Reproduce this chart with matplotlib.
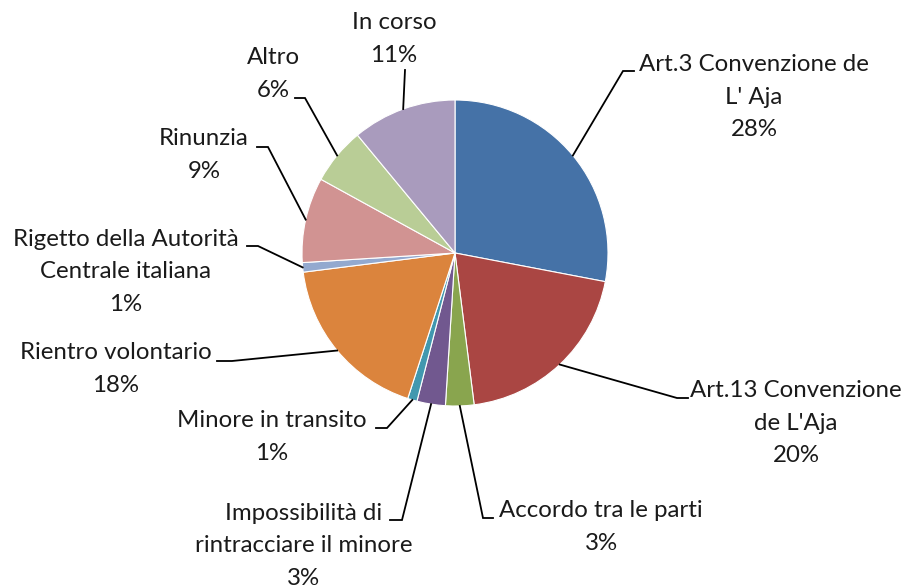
import matplotlib.pyplot as plt
import numpy as np

# slices, clockwise from 12 o'clock
categories = ["Art.3 Convenzione de\nL' Aja", "Art.13 Convenzione\nde L'Aja",
              "Accordo tra le parti", "Impossibilità di\nrintracciare il minore",
              "Minore in transito", "Rientro volontario",
              "Rigetto della Autorità\nCentrale italiana", "Rinunzia", "Altro", "In corso"]
shares = [28, 20, 3, 3, 1, 18, 1, 9, 6, 11]
colors = ["#4572A7", "#AA4643", "#89A54E", "#71588F", "#4198AF",
          "#DB843D", "#93A9CF", "#D19392", "#B9CD96", "#A99BBD"]

W, H = 906, 587
# layout, in image pixels (y down): label centre, elbow, end of leader
label_pos = [(754, 97), (796, 423), (601, 527), (304, 546), (272, 437),
             (116, 369), (126, 272), (204, 155), (273, 74), (394, 39)]
elbows = [(623, 71), (677, 398), (483, 518), (402, 520), (387, 428),
          (232, 361), (258, 246), (268, 147), (305, 98), (405, 70)]
ends = [(634, 71), (688, 398), (493, 518), (390, 520), (376, 428),
        (217, 361), (247, 246), (257, 147), (295, 98), (405, 70)]

cx, cy, r = 455, 253, 153

plt.rcParams['font.family'] = ['Lato', 'DejaVu Sans']

fig = plt.figure(figsize=(W / 100, H / 100), dpi=100)
ax = fig.add_axes([0, 0, 1, 1])

wedges, _ = ax.pie(shares, colors=colors, startangle=90, counterclock=False,
                   center=(cx, H - cy), radius=r,
                   wedgeprops=dict(edgecolor='white', linewidth=0.8))
ax.set_xlim(0, W)
ax.set_ylim(0, H)
ax.set_aspect('equal')
ax.axis('off')

total = sum(shares)
for w, name, v, lp, el, en in zip(wedges, categories, shares, label_pos, elbows, ends):
    mid = np.deg2rad((w.theta1 + w.theta2) / 2)
    x0 = cx + r * np.cos(mid)
    y0 = (H - cy) + r * np.sin(mid)
    ax.plot([x0, el[0], en[0]], [y0, H - el[1], H - en[1]],
            color='black', lw=1.3, solid_joinstyle='miter')
    pct = round(100 * v / total)
    ax.text(lp[0], H - lp[1], f"{name}\n{pct}%", ha='center', va='center',
            multialignment='center', fontsize=17.3, color='#1a1a1a',
            linespacing=1.65)

fig.savefig("out.png", dpi=100)
